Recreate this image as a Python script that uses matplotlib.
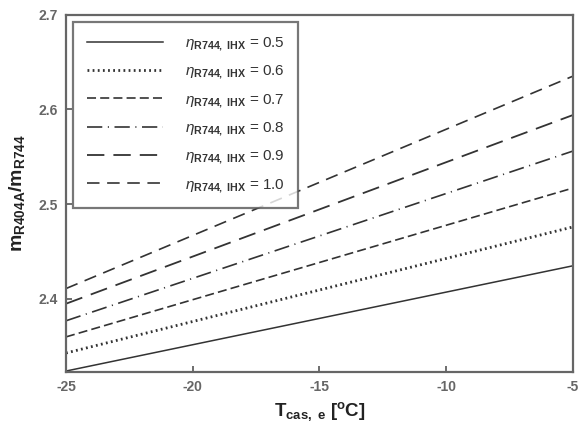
import matplotlib
matplotlib.use('Agg')
import matplotlib.pyplot as plt

plt.rcParams['font.family'] = ['Liberation Sans', 'DejaVu Sans']
plt.rcParams['mathtext.fontset'] = 'custom'
plt.rcParams['mathtext.rm'] = 'Liberation Sans'
plt.rcParams['mathtext.bf'] = 'Liberation Sans:bold'
plt.rcParams['mathtext.it'] = 'Liberation Sans:italic'
plt.rcParams['lines.scale_dashes'] = False
plt.rcParams['axes.unicode_minus'] = False

# datos (extremos de cada recta)
t_cas = [-25, -5]
eta_ihx = ['0.5', '0.6', '0.7', '0.8', '0.9', '1.0']
ratio = {
    '0.5': [2.324, 2.435],
    '0.6': [2.343, 2.476],
    '0.7': [2.360, 2.517],
    '0.8': [2.377, 2.556],
    '0.9': [2.395, 2.594],
    '1.0': [2.411, 2.635],
}

estilos = {
    '0.5': dict(linestyle='-', linewidth=1.1),
    '0.6': dict(linestyle=(0, (1.3, 2.4)), linewidth=2.0),
    '0.7': dict(linestyle=(0, (6.5, 3)), linewidth=1.2),
    '0.8': dict(linestyle=(0, (11, 4, 0.8, 4)), linewidth=1.2),
    '0.9': dict(linestyle=(0, (12.5, 6.5)), linewidth=1.3),
    '1.0': dict(linestyle=(0, (9, 5.5)), linewidth=1.2),
}

fig = plt.figure(figsize=(5.82, 4.23), dpi=100)
ax = fig.add_axes([0.1134, 0.1206, 0.8711, 0.8451])

for eta in eta_ihx:
    ax.plot(t_cas, ratio[eta], color='#333333',
            label=r'$\eta_{\mathbf{R744,\ IHX}}$ = ' + eta, **estilos[eta])

ax.set_xlim(-25, -5)
ax.set_ylim(2.323, 2.7)
ax.set_xticks([-25, -20, -15, -10, -5])
ax.set_yticks([2.4, 2.5, 2.6, 2.7])
ax.set_yticklabels(['2.4', '2.5', '2.6', '2.7'])

ax.tick_params(direction='in', length=4, width=1.2, color='#555555',
               labelsize=10, labelcolor='#666666', pad=6)
for lbl in ax.get_xticklabels() + ax.get_yticklabels():
    lbl.set_fontweight('bold')
for s in ax.spines.values():
    s.set_color('#666666')
    s.set_linewidth(1.6)

ax.set_xlabel(r'$\mathbf{T_{cas,\ e}}$ [$\mathbf{^oC}$]', fontsize=13.5,
              fontweight='bold', color='#222222', labelpad=4)
ax.set_ylabel(r'$\mathbf{m_{R404A}/m_{R744}}$', fontsize=14,
              fontweight='bold', color='#222222', labelpad=8)

leg = ax.legend(loc='upper left', bbox_to_anchor=(0.014, 0.979),
                borderaxespad=0, fancybox=False, frameon=True,
                handlelength=5.0, handletextpad=1.4, labelspacing=0.72,
                fontsize=11, borderpad=0.9)
leg.get_frame().set_edgecolor('#555555')
leg.get_frame().set_linewidth(1.6)
for txt in leg.get_texts():
    txt.set_color('#333333')

plt.savefig('out.png', dpi=100)
plt.close()
